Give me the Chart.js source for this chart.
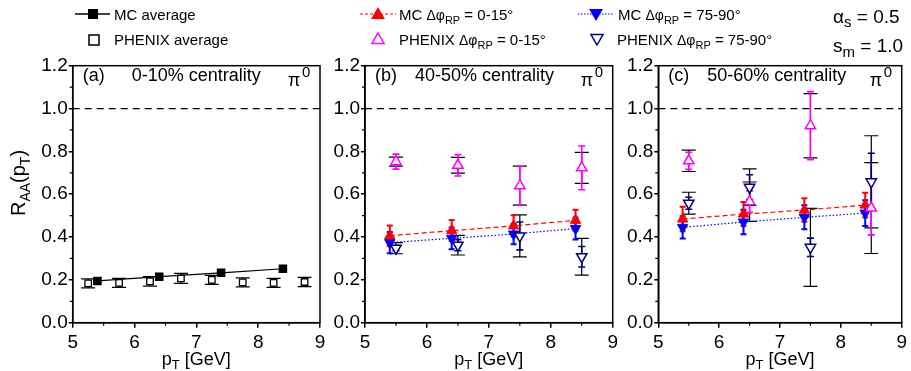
<!DOCTYPE html>
<html>
<head>
<meta charset="utf-8">
<script src="https://cdn.jsdelivr.net/npm/chart.js@4.4.1/dist/chart.umd.min.js"></script>
<style>
  html, body { margin: 0; padding: 0; background: #fff; }
  #wrap { position: relative; width: 911px; height: 371px; }
  #wrap canvas { position: absolute; left: 0; top: 0; }
</style>
</head>
<body>
<div id="wrap">
  <canvas id="pa" width="911" height="371"></canvas>
  <canvas id="pb" width="911" height="371"></canvas>
  <canvas id="pc" width="911" height="371"></canvas>
</div>
<script>
// ---- data ----
const xTicks = [5, 6, 7, 8, 9];
const yTicks = [0.0, 0.2, 0.4, 0.6, 0.8, 1.0, 1.2];
const refX = [5, 9];
const refY = [1.0, 1.0];

const mcPt = [5.4, 6.4, 7.4, 8.4];
const phxPtA = [5.25, 5.75, 6.25, 6.75, 7.25, 7.75, 8.25, 8.75];
const phxPt = [5.5, 6.5, 7.5, 8.5];

// (a) 0-10% centrality
const aMcAvg = [0.195, 0.215, 0.233, 0.252];
const aPhxAvg = [0.184, 0.186, 0.193, 0.207, 0.200, 0.188, 0.186, 0.190];
const aPhxAvgSys = [0.021, 0.021, 0.022, 0.023, 0.021, 0.021, 0.021, 0.022];

// (b) 40-50% centrality
const bMc0 = [0.406, 0.430, 0.452, 0.478];
const bMc0Err = [0.048, 0.049, 0.050, 0.049];
const bMc75 = [0.374, 0.394, 0.414, 0.440];
const bMc75Err = [0.050, 0.051, 0.048, 0.051];
const bPhx0 = [0.752, 0.735, 0.640, 0.723];
const bPhx0Stat = [0.035, 0.050, 0.090, 0.102];
const bPhx0Sys = [0.021, 0.037, 0.091, 0.072];
const bPhx75 = [0.348, 0.362, 0.405, 0.308];
const bPhx75Stat = [0.012, 0.026, 0.065, 0.048];
const bPhx75Sys = [0.026, 0.046, 0.098, 0.086];

// (c) 50-60% centrality
const cMc0 = [0.484, 0.507, 0.526, 0.549];
const cMc0Err = [0.057, 0.056, 0.055, 0.058];
const cMc75 = [0.445, 0.470, 0.492, 0.512];
const cMc75Err = [0.052, 0.057, 0.056, 0.060];
const cPhx0 = [0.756, 0.565, 0.920, 0.535];
const cPhx0Stat = [0.040, 0.050, 0.159, 0.125];
const cPhx0Sys = [0.050, 0.092, 0.150, 0.212];
const cPhx75 = [0.558, 0.633, 0.352, 0.658];
const cPhx75Stat = [0.028, 0.058, 0.043, 0.133];
const cPhx75Sys = [0.051, 0.085, 0.182, 0.215];

const FF = '"Liberation Sans", Arial, Helvetica, sans-serif';
const RED = '#ff0000', BLUE = '#0000ff', MAG = '#ff00ff', NAVY = '#000080';

const toXY = (xs, ys) => xs.map((x, i) => ({ x: x, y: ys[i] }));

// draws a run of text pieces [text, size, dy]
function rich(ctx, x, y, parts, align) {
  let w = 0;
  parts.forEach(p => { ctx.font = p[1] + 'px ' + FF; w += ctx.measureText(p[0]).width; });
  let cx = align === 'center' ? x - w / 2 : (align === 'right' ? x - w : x);
  ctx.textBaseline = 'alphabetic';
  ctx.textAlign = 'left';
  parts.forEach(p => {
    ctx.font = p[1] + 'px ' + FF;
    ctx.fillText(p[0], cx, y + (p[2] || 0));
    cx += ctx.measureText(p[0]).width;
  });
}

function marker(ctx, kind, x, y, r, fill, stroke, lw) {
  ctx.save();
  ctx.beginPath();
  if (kind === 'rect') {
    ctx.rect(x - r, y - r, 2 * r, 2 * r);
  } else {
    const s = kind === 'down' ? -1 : 1;
    ctx.moveTo(x, y - s * r);
    ctx.lineTo(x + r * 0.866, y + s * r * 0.5);
    ctx.lineTo(x - r * 0.866, y + s * r * 0.5);
    ctx.closePath();
  }
  if (fill) { ctx.fillStyle = fill; ctx.fill(); }
  if (stroke) { ctx.strokeStyle = stroke; ctx.lineWidth = lw; ctx.stroke(); }
  ctx.restore();
}

function drawBars(chart, key, colorKey, half, lw) {
  const ctx = chart.ctx, ys = chart.scales.y;
  chart.data.datasets.forEach((ds, i) => {
    if (!ds[key]) return;
    const meta = chart.getDatasetMeta(i);
    ctx.save();
    ctx.strokeStyle = colorKey ? ds[colorKey] : '#000';
    ctx.lineWidth = lw;
    meta.data.forEach((pt, j) => {
      const v = ds.data[j].y, e = ds[key][j];
      const y1 = ys.getPixelForValue(v + e), y2 = ys.getPixelForValue(v - e);
      ctx.beginPath();
      ctx.moveTo(pt.x, y1); ctx.lineTo(pt.x, y2);
      ctx.moveTo(pt.x - half, y1); ctx.lineTo(pt.x + half, y1);
      ctx.moveTo(pt.x - half, y2); ctx.lineTo(pt.x + half, y2);
      ctx.stroke();
    });
    ctx.restore();
  });
}

const panelPlugin = {
  id: 'panel',
  beforeDatasetsDraw(chart) {
    drawBars(chart, 'sys', null, 7, 1.2);
    drawBars(chart, 'stat', 'barColor', 3.5, 1.6);
    drawBars(chart, 'err', 'barColor', 3, 2);
  },
  afterDraw(chart, args, o) {
    const ctx = chart.ctx, a = chart.chartArea;
    const xs = chart.scales.x, ys = chart.scales.y;
    ctx.save();
    ctx.strokeStyle = '#000';
    ctx.lineWidth = 1.5;
    ctx.strokeRect(a.left, a.top, a.right - a.left, a.bottom - a.top);
    // minor ticks
    ctx.lineWidth = 1.2;
    ctx.beginPath();
    for (let i = 0; i < xTicks.length - 1; i++) {
      const px = xs.getPixelForValue((xTicks[i] + xTicks[i + 1]) / 2);
      ctx.moveTo(px, a.bottom); ctx.lineTo(px, a.bottom + 3);
    }
    for (let i = 0; i < yTicks.length - 1; i++) {
      const py = ys.getPixelForValue((yTicks[i] + yTicks[i + 1]) / 2);
      ctx.moveTo(a.left, py); ctx.lineTo(a.left - 3, py);
    }
    ctx.stroke();
    ctx.fillStyle = '#000';
    rich(ctx, a.left + o.labX, 81, [['(' + o.label + ')', 18]]);
    rich(ctx, a.left + o.titX, 81, [[o.title, 18]]);
    rich(ctx, a.right - 32, 86, [['π', 18]]);
    rich(ctx, a.right - 18, 77, [['0', 15]]);
    rich(ctx, (a.left + a.right) / 2, 365, [['p', 18], ['T', 13, 4], [' [GeV]', 18]], 'center');
    if (o.yTitle) {
      ctx.translate(25, 183);
      ctx.rotate(-Math.PI / 2);
      rich(ctx, 0, 0, [['R', 20], ['AA', 14, 5], ['(p', 20], ['T', 14, 5], [')', 20]], 'center');
    }
    ctx.restore();
  }
};

const legendPlugin = {
  id: 'figlegend',
  afterDraw(chart) {
    const ctx = chart.ctx;
    ctx.save();
    ctx.fillStyle = '#000';
    // (a) legend
    ctx.strokeStyle = '#000'; ctx.lineWidth = 1.5;
    ctx.beginPath(); ctx.moveTo(75, 14); ctx.lineTo(110, 14); ctx.stroke();
    marker(ctx, 'rect', 93, 14, 5, '#000', null, 0);
    rich(ctx, 114, 19.5, [['MC average', 15]]);
    marker(ctx, 'rect', 94, 40, 5, '#fff', '#000', 1.5);
    rich(ctx, 114, 45, [['PHENIX average', 15]]);
    // (b) legend
    ctx.strokeStyle = RED; ctx.lineWidth = 1.2; ctx.setLineDash([3, 2]);
    ctx.beginPath(); ctx.moveTo(360, 14); ctx.lineTo(396, 14); ctx.stroke();
    ctx.strokeStyle = BLUE; ctx.setLineDash([1.5, 1.5]);
    ctx.beginPath(); ctx.moveTo(578, 14); ctx.lineTo(613, 14); ctx.stroke();
    ctx.setLineDash([]);
    marker(ctx, 'up', 378, 15, 8, RED, null, 0);
    marker(ctx, 'up', 378, 40, 7, '#fff', MAG, 1.5);
    marker(ctx, 'down', 596, 13, 8, BLUE, null, 0);
    marker(ctx, 'down', 597, 38, 7, '#fff', NAVY, 1.5);
    ctx.fillStyle = '#000';
    rich(ctx, 399, 19.5, [['MC ', 15], ['Δφ', 14], ['RP', 11, 4], [' = 0-15°', 15]]);
    rich(ctx, 399, 45, [['PHENIX ', 15], ['Δφ', 14], ['RP', 11, 4], [' = 0-15°', 15]]);
    rich(ctx, 618, 19.5, [['MC ', 15], ['Δφ', 14], ['RP', 11, 4], [' = 75-90°', 15]]);
    rich(ctx, 617, 45, [['PHENIX ', 15], ['Δφ', 14], ['RP', 11, 4], [' = 75-90°', 15]]);
    // parameters
    rich(ctx, 833, 23, [['α', 19], ['s', 15, 4], [' = 0.5', 19]]);
    rich(ctx, 833, 52, [['s', 19], ['m', 15, 5], [' = 1.0', 19]]);
    ctx.restore();
  }
};

function refSet() {
  return { data: toXY(refX, refY), showLine: true, borderColor: '#000', borderWidth: 1.2,
           borderDash: [7, 5], pointRadius: 0 };
}
function mcSet(xs, ys, err, color, dash, rot) {
  return { data: toXY(xs, ys), err: err, barColor: color, showLine: true, borderColor: color,
           borderWidth: 1.2, borderDash: dash, pointStyle: 'triangle', rotation: rot,
           pointRadius: 6, pointBackgroundColor: color, pointBorderColor: color, pointBorderWidth: 1 };
}
function phxSet(xs, ys, stat, sys, color, rot) {
  return { data: toXY(xs, ys), stat: stat, sys: sys, barColor: color, showLine: false,
           pointStyle: 'triangle', rotation: rot, pointRadius: 6,
           pointBackgroundColor: '#fff', pointBorderColor: color, pointBorderWidth: 1.5 };
}

function makeChart(id, datasets, pad, yw, opts, extra) {
  const plugins = [panelPlugin];
  if (extra) plugins.push(extra);
  return new Chart(document.getElementById(id), {
    type: 'scatter',
    data: { datasets: datasets },
    options: {
      responsive: false, animation: false, events: [], devicePixelRatio: 1,
      layout: { padding: { left: pad[0], right: pad[1], top: 65.7, bottom: 0 } },
      plugins: { legend: { display: false }, tooltip: { enabled: false }, panel: opts },
      scales: {
        x: {
          type: 'linear', min: 5, max: 9,
          afterBuildTicks: ax => { ax.ticks = xTicks.map(v => ({ value: v })); },
          afterFit: ax => { ax.height = 48.3; },
          grid: { drawOnChartArea: false, drawTicks: true, tickLength: 5, color: '#000', lineWidth: 1.5 },
          border: { display: true, color: '#000', width: 1.5 },
          ticks: { color: '#000', font: { size: 19, family: FF }, padding: 4, maxRotation: 0 }
        },
        y: {
          min: 0, max: 1.2,
          afterBuildTicks: ax => { ax.ticks = yTicks.map(v => ({ value: v })); },
          afterFit: ax => { ax.width = yw; },
          grid: { drawOnChartArea: false, drawTicks: true, tickLength: 4, color: '#000', lineWidth: 1.5 },
          border: { display: true, color: '#000', width: 1.5 },
          ticks: { color: '#000', font: { size: 19, family: FF }, padding: 1,
                   callback: v => v.toFixed(1) }
        }
      }
    },
    plugins: plugins
  });
}

makeChart('pa', [
  { data: toXY(mcPt, aMcAvg), showLine: true, borderColor: '#000', borderWidth: 1.2,
    pointStyle: 'rect', pointRadius: 5.2, pointBackgroundColor: '#000', pointBorderColor: '#000' },
  { data: toXY(phxPtA, aPhxAvg), sys: aPhxAvgSys, showLine: false, pointStyle: 'rect',
    pointRadius: 4.6, pointBackgroundColor: '#fff', pointBorderColor: '#000', pointBorderWidth: 1.3 },
  refSet()
], [0, 591], 72.7, { label: 'a', title: '0-10% centrality', labX: 10, titX: 59, yTitle: true });

makeChart('pb', [
  phxSet(phxPt, bPhx0, bPhx0Stat, bPhx0Sys, MAG, 0),
  phxSet(phxPt, bPhx75, bPhx75Stat, bPhx75Sys, NAVY, 180),
  mcSet(mcPt, bMc0, bMc0Err, RED, [5, 3], 0),
  mcSet(mcPt, bMc75, bMc75Err, BLUE, [1.5, 2], 180),
  refSet()
], [325, 298.3], 40, { label: 'b', title: '40-50% centrality', labX: 10, titX: 50 });

makeChart('pc', [
  phxSet(phxPt, cPhx0, cPhx0Stat, cPhx0Sys, MAG, 0),
  phxSet(phxPt, cPhx75, cPhx75Stat, cPhx75Sys, NAVY, 180),
  mcSet(mcPt, cMc0, cMc0Err, RED, [5, 3], 0),
  mcSet(mcPt, cMc75, cMc75Err, BLUE, [1.5, 2], 180),
  refSet()
], [616.3, 6], 42, { label: 'c', title: '50-60% centrality', labX: 10, titX: 49 }, legendPlugin);
</script>
</body>
</html>
